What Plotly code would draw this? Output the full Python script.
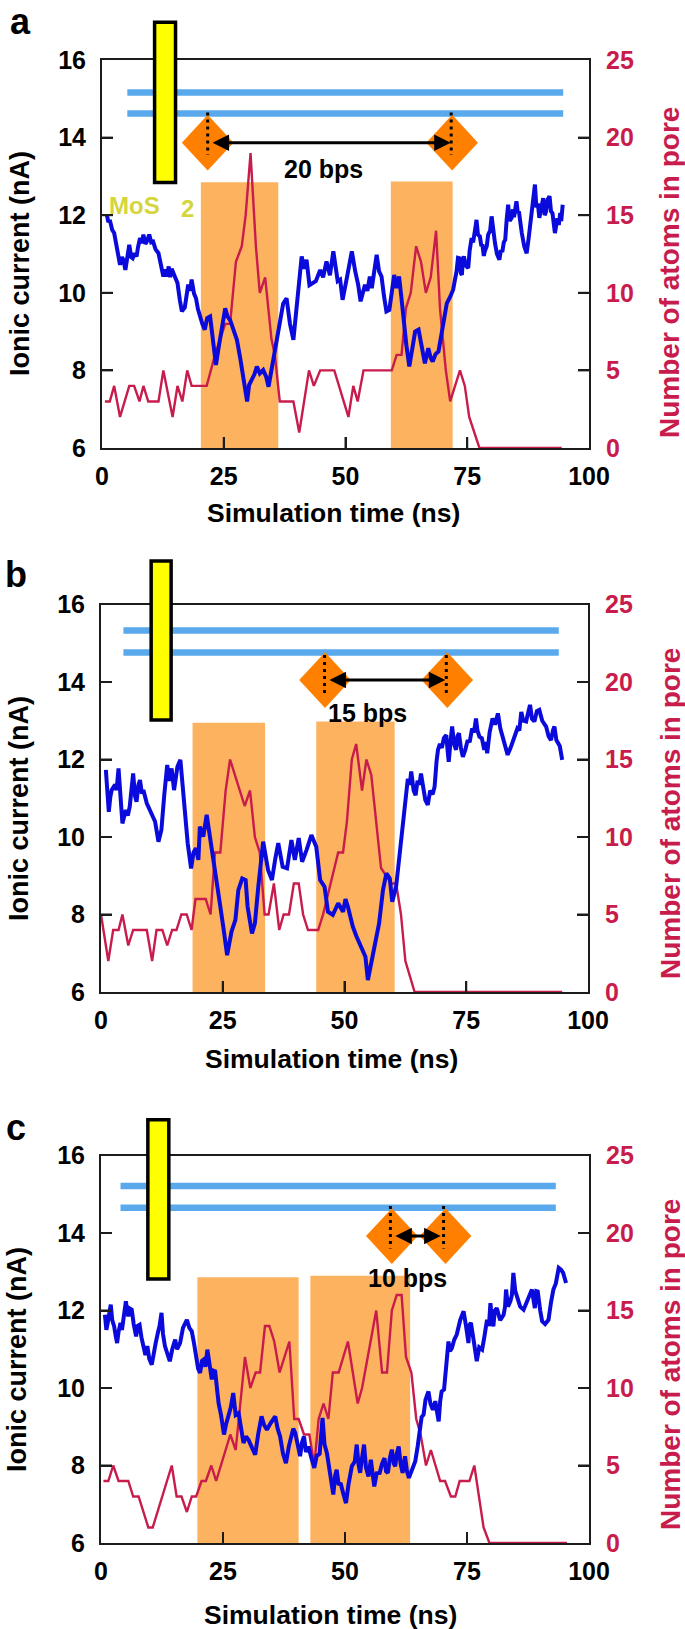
import plotly.graph_objects as go

W, H = 685, 1629
FONT = "Liberation Sans"
RED = "#C71C4C"
BLUE = "#0A0ADC"
SKY = "#5AA9EC"
ORANGE_BOX = "#FDB25F"
ORANGE = "#FF8000"
YELLOW = "#FFFF00"
MOS = "#D5D53C"
AXC = "#1c1c1c"

# ---------- panel a ----------
a_blue_t = [1.0,1.3,1.6,2.1,2.5,2.8,3.1,3.4,3.7,4.1,4.4,4.8,5.2,5.6,6.0,6.3,6.7,7.1,7.4,7.8,8.2,8.5,8.9,9.2,9.7,10.1,10.5,11.0,11.6,12.1,12.6,13.0,13.3,13.7,14.0,14.3,14.6,15.0,15.5,16.0,16.4,17.0,17.4,17.7,18.1,18.4,18.9,19.3,19.7,20.1,20.6,21.1,21.6,22.2,22.8,23.4,23.9,24.4,24.9,25.3,25.8,26.3,27.0,27.7,28.4,29.0,29.4,29.8,30.2,30.7,31.3,31.8,32.4,33.1,33.7,34.2,34.7,35.2,35.9,36.6,37.2,37.9,38.6,39.3,40.1,41.0,41.5,42.0,42.6,43.1,43.9,44.8,45.4,46.1,46.8,47.5,48.4,48.9,49.4,50.3,51.3,52.0,52.6,53.1,54.0,54.5,55.0,55.4,55.9,56.4,56.9,57.4,57.9,58.4,59.0,59.5,60.0,60.5,61.0,61.5,61.9,62.5,63.1,63.7,64.3,65.0,65.6,66.3,67.0,67.5,67.9,68.5,69.1,70.1,70.8,71.5,72.1,72.5,72.8,73.1,73.4,73.7,73.9,74.1,74.3,74.7,75.2,75.5,75.9,76.2,76.4,76.7,76.9,77.2,77.6,77.9,78.1,78.4,78.6,79.0,79.3,79.7,80.0,80.3,80.7,81.1,81.6,81.9,82.2,82.5,82.8,83.1,83.4,83.7,84.1,84.4,84.6,85.1,85.4,85.6,85.9,86.2,86.7,87.2,87.6,88.0,88.4,88.9,89.2,89.5,89.8,90.2,90.6,90.9,91.2,91.5,91.9,92.2,92.5,93.0,93.3,93.5,93.8,94.1,94.3,94.6]
a_blue_v = [12.01,11.82,11.88,11.62,11.54,11.30,11.2,10.86,10.72,10.92,10.85,10.59,10.95,11.24,10.92,10.89,11.02,10.94,11.18,11.41,11.28,11.5,11.26,11.32,11.5,11.30,11.32,11.12,11.02,10.72,10.42,10.60,10.42,10.68,10.40,10.62,10.51,10.38,10.25,9.80,9.52,9.62,9.98,10.21,10.05,10.34,9.98,9.86,9.58,9.39,9.20,9.05,9.35,9.39,8.76,8.14,8.55,8.87,9.30,9.6,9.38,9.3,9.0,8.79,8.30,7.84,7.45,7.2,7.62,7.75,7.90,8.1,7.92,8.01,7.84,7.58,7.95,8.18,8.70,9.22,9.72,9.86,9.20,8.79,9.85,10.94,10.62,10.85,10.20,10.25,10.30,10.59,10.40,10.81,10.45,11.07,10.3,10.34,9.82,10.4,11.07,10.55,10.21,9.78,10.21,10.05,10.42,10.12,10.55,10.98,10.55,10.42,9.92,9.52,9.56,9.95,10.46,10.12,10.42,9.85,9.3,8.65,8.1,8.62,9.0,9.05,8.7,8.18,8.57,8.32,8.23,8.42,8.49,9.22,9.73,9.90,10.08,10.35,10.55,10.9,10.89,10.5,10.46,10.85,10.94,10.7,10.64,11.1,11.41,11.3,11.55,11.7,11.88,11.5,11.45,11.2,11.25,10.95,11.07,11.2,11.50,11.6,11.97,11.6,11.28,11.0,10.85,11.1,11.05,11.3,11.37,11.9,12.27,11.85,11.93,12.15,11.95,12.36,12.05,12.1,11.75,11.54,11.2,11.02,11.4,11.90,12.4,12.79,12.2,12.3,11.93,12.26,12.44,12.0,12.10,12.4,12.49,12.1,12.05,11.54,11.8,11.92,11.75,12.06,11.85,12.27]
a_red_t = [0.6,1.6,2.5,3.7,5.6,6.6,7.7,8.5,9.5,11.6,12.6,14.5,15.5,16.5,17.5,18.4,21.5,23.2,25.3,26.3,27.5,28.7,29.5,30.5,31.6,32.4,33.5,34.8,35.5,36.5,39.3,40.5,42.5,43.5,44.8,47.7,50.6,51.6,52.5,53.7,59.5,60.5,61.5,62.4,63.4,64.5,65.5,66.5,67.5,68.6,69.4,70.6,71.5,73.5,74.5,75.4,77.5,94.4]
a_red_r = [3,3,4,2,4,4,3,4,3,3,5,2,4,3,5,4,4,6,8,8,12,13,15,19,13,10,11,7,6,3,3,1,5,4,5,5,2,4,3,5,5,6,6,9,10,13,12,10,11,14,9,5,3,5,4,2,0,0]
a_box_t = [[20.3,36.2],[59.3,72.0]]
a_box_top = [12.85,12.87]
a_yellow_t = [10.8,15.1]
a_yellow_v = [12.84,16.97]
a_sky_t = [5.2,94.7]
a_sky_v = [15.16,14.62]
a_dia_t = [21.7,71.9]
a_dia_v = 13.87
a_dot_t = [21.7,71.7]
a_dot_v = [14.65,13.55]
a_arrow_t = [22.4,71.6]
a_label = ("20 bps",45.4,13.2)

# ---------- panel b ----------
b_blue_t = [1.0,1.3,1.6,1.9,2.2,2.9,3.2,3.6,4.0,4.4,5.1,5.5,5.9,6.3,6.6,7.0,7.3,7.7,8.0,8.4,8.7,9.4,10.4,11.1,11.8,12.4,13.0,13.6,14.0,14.5,15.0,15.4,15.7,16.3,17.1,17.8,18.5,19.0,19.5,20.0,20.3,21.0,21.7,22.5,23.4,24.4,25.2,25.9,26.8,27.6,28.2,29.0,29.7,30.1,31.0,31.6,32.3,33.3,34.3,35.1,35.8,36.4,37.3,38.2,39.1,39.8,40.6,41.3,42.2,43.2,44.2,45.0,45.9,46.6,47.6,48.7,49.7,50.2,50.7,51.7,52.4,53.1,53.8,54.3,54.8,55.8,56.4,57.1,57.9,58.6,59.3,59.8,60.6,61.3,61.9,62.7,63.0,63.4,63.7,64.2,64.6,65.0,65.4,65.7,66.1,66.6,67.1,67.6,68.1,68.5,68.9,69.2,69.6,70.0,70.4,70.9,71.2,71.4,71.8,72.1,72.5,72.9,73.2,73.5,73.9,74.3,74.8,75.3,75.7,76.2,76.6,77.0,77.3,77.7,78.2,78.7,79.0,79.3,79.8,80.4,80.9,81.5,82.0,82.5,83.0,83.5,84.1,84.7,85.2,85.5,85.9,86.3,86.7,87.3,87.7,88.1,88.5,89.0,89.5,90.0,90.6,91.4,91.9,92.4,92.8,93.1,93.5,93.8,94.2,94.7]
b_blue_v = [11.73,11.10,10.65,11.02,11.21,11.35,11.21,11.77,10.90,10.35,10.7,10.55,10.78,11.30,11.64,11.05,10.91,11.35,11.47,11.12,11.21,10.87,10.61,10.40,9.88,10.18,11.10,11.86,11.45,11.77,11.21,11.50,11.82,11.99,10.87,9.84,9.19,9.60,9.71,9.41,10.27,10.01,10.57,9.92,9.23,8.29,7.60,6.95,7.56,7.86,8.63,8.93,8.89,8.2,7.51,7.77,8.72,9.88,9.15,8.89,9.45,9.84,9.23,9.19,9.92,9.41,9.97,9.36,9.66,10.05,9.75,8.89,8.72,8.07,7.99,8.29,8.07,8.40,8.2,7.69,7.45,7.26,7.05,6.91,6.31,6.91,7.30,7.77,8.63,9.06,8.93,8.33,8.72,9.49,10.27,11.21,11.5,11.35,11.69,11.2,11.08,11.45,11.35,11.64,11.3,10.95,10.83,11.2,11.1,11.3,11.95,12.25,12.4,12.3,12.55,12.63,12.2,11.94,12.5,12.85,12.4,12.25,12.6,12.68,12.3,12.07,12.25,12.5,12.45,12.80,12.7,13.06,12.75,12.59,12.55,12.25,12.45,12.16,12.7,13.06,12.9,13.19,12.8,12.59,12.4,12.12,12.3,12.5,12.65,12.80,12.75,13.23,13.0,12.98,13.2,13.41,13.05,12.98,13.25,13.28,13.0,12.85,12.6,12.5,12.75,12.85,12.5,12.42,12.35,11.99]
b_red_t = [0.0,1.5,2.5,3.6,4.4,5.6,6.6,9.4,10.5,11.4,12.6,13.6,14.6,15.5,16.5,17.6,18.6,19.4,21.5,22.5,23.4,24.5,25.6,26.5,29.5,30.6,31.6,32.6,33.6,34.4,35.5,36.6,37.5,38.6,39.6,40.6,41.5,42.5,44.6,45.6,48.7,49.7,50.5,51.5,52.4,53.6,54.5,55.5,57.5,59.6,60.6,61.6,62.5,64.4,94.7]
b_red_r = [5,2,4,4,5,3,4,4,2,4,4,3,4,4,5,5,4,6,6,5,9,9,13,15,12,13,10,9,5,5,7,4,5,5,7,7,5,4,4,5,9,9,11,15,16,13,15,14,8,7,7,5,2,0,0]
b_box_t = [[18.8,33.7],[44.2,60.3]]
b_box_top = [12.95,12.98]
b_yellow_t = [10.3,14.4]
b_yellow_v = [13.02,17.12]
b_sky_t = [4.6,94.0]
b_sky_v = [15.33,14.76]
b_dia_t = [46.0,71.1]
b_dia_v = 14.05
b_dot_t = [45.9,70.9]
b_dot_v = [14.7,13.66]
b_arrow_t = [46.6,70.7]
b_label = ("15 bps",54.7,13.2)

# ---------- panel c ----------
c_blue_t = [0.8,1.1,1.4,1.7,2.0,2.3,2.7,3.0,3.3,3.6,4.0,4.3,4.7,5.1,5.4,5.6,5.9,6.3,6.7,7.2,7.5,7.9,8.3,8.8,9.1,9.5,9.9,10.4,10.8,11.2,11.7,12.0,12.4,12.7,13.1,13.6,14.1,14.6,15.2,15.6,16.2,16.8,17.6,18.1,18.6,19.0,19.5,19.9,20.3,20.7,21.0,21.4,21.8,22.2,22.7,23.0,23.4,23.8,24.1,24.6,25.2,25.6,26.1,26.6,27.1,27.6,28.2,28.7,29.2,29.7,30.2,30.8,31.6,32.2,32.9,33.4,34.0,34.8,35.7,36.2,36.7,37.3,37.9,38.5,39.1,39.4,39.8,40.3,40.8,41.2,41.6,42.0,42.5,43.1,43.7,44.2,44.8,45.4,45.8,46.3,46.9,47.6,48.0,48.3,48.7,49.1,49.6,50.2,50.7,51.4,52.0,52.4,52.8,53.1,53.5,53.9,54.3,54.8,55.3,55.7,56.0,56.5,57.1,57.6,58.1,58.4,58.8,59.2,59.6,60.0,60.3,60.6,61.0,61.4,61.8,62.3,62.7,63.1,63.8,64.4,64.9,65.4,65.7,66.1,66.5,67.1,67.5,68.0,68.5,68.9,69.2,69.5,69.8,70.3,70.8,71.2,71.5,71.9,72.4,72.9,73.6,74.3,74.8,75.3,75.5,75.8,76.4,77.0,77.5,78.1,78.6,79.1,79.5,79.8,80.1,80.4,80.7,81.1,81.8,82.5,82.8,83.0,83.4,83.9,84.2,84.5,84.9,85.2,85.9,86.6,87.4,88.3,88.6,88.9,89.2,89.5,90.0,90.4,91.0,91.7,92.2,92.7,93.2,93.8,94.3,94.7,95.3]
c_blue_v = [11.89,11.5,11.7,11.9,12.15,11.75,11.59,11.35,11.16,11.45,11.68,11.5,11.95,12.24,11.95,11.85,12.05,12.02,11.65,11.33,11.6,11.63,11.3,11.03,10.85,11.08,10.75,10.6,10.95,11.16,11.45,11.6,11.94,11.4,11.08,10.85,10.69,11.0,11.25,11.0,11.16,11.55,11.76,11.55,11.46,11.2,10.86,10.5,10.39,10.7,10.73,10.55,10.99,10.55,10.22,10.45,10.43,9.95,9.61,9.3,8.8,9.05,9.27,9.5,9.87,9.3,9.35,9.0,8.58,8.75,8.67,8.5,8.28,8.8,9.27,9.05,8.92,9.1,9.27,8.95,8.75,8.3,8.06,8.5,8.75,8.95,8.84,8.5,8.24,8.6,8.75,8.35,8.49,8.2,7.94,8.25,8.3,9.23,8.55,8.32,7.85,7.25,7.75,7.89,7.5,7.55,7.3,7.03,7.5,7.98,8.1,8.54,8.0,7.81,8.2,8.54,7.95,7.72,8.15,7.7,7.46,7.8,7.81,8.05,8.19,7.85,7.81,8.2,8.41,8.05,7.98,8.3,8.49,8.05,7.81,8.24,7.85,7.68,7.95,8.11,8.5,8.92,9.25,9.31,9.7,9.91,9.6,9.44,9.66,9.35,9.14,9.65,9.91,9.96,10.7,11.2,10.95,11.03,11.25,11.38,11.75,11.98,11.6,11.16,11.62,11.68,11.2,10.69,11.05,10.99,11.35,11.76,11.6,12.19,11.75,11.59,12.0,12.06,11.75,11.89,12.1,12.54,12.1,12.24,12.4,12.97,12.5,12.37,12.1,12.02,12.3,12.54,12.3,12.06,12.5,12.49,12.0,11.72,11.65,11.76,12.2,12.54,12.7,13.1,13.05,12.97,12.71]
c_red_t = [0.5,1.5,2.5,3.6,5.6,6.6,7.7,9.7,10.6,14.5,15.5,16.5,17.6,18.6,19.5,20.6,21.5,22.6,23.6,26.5,27.6,29.5,30.6,31.7,32.6,33.6,34.5,35.5,36.6,38.6,39.6,40.5,41.6,42.7,43.7,44.6,45.6,46.6,47.5,48.7,50.6,52.6,53.5,56.4,57.6,58.6,59.6,60.6,61.6,62.5,63.6,64.6,65.5,66.6,67.6,69.5,70.5,71.7,72.6,73.5,75.5,76.5,78.4,79.6,95.5]
c_red_r = [4,4,5,4,4,3,3,1,1,5,3,3,2,3,3,4,4,5,4,7,6,12,10,11,11,14,14,13,11,13,8,8,7,7,5,8,9,8,11,11,13,9,10,15,11,11,15,16,16,12,11,8,7,5,6,4,4,3,3,4,4,5,1,0,0]
c_box_t = [[19.75,40.5],[42.9,63.35]]
c_box_top = [12.86,12.9]
c_yellow_t = [9.6,13.9]
c_yellow_v = [12.81,16.92]
c_sky_t = [4.0,93.2]
c_sky_v = [15.21,14.65]
c_dia_t = [59.6,70.6]
c_dia_v = 13.92
c_dot_t = [59.3,70.2]
c_dot_v = [14.7,13.6]
c_arrow_t = [60.0,69.6]
c_label = ("10 bps",62.9,12.84)

x_ticks = [0,25,50,75,100]
left_ticks = [6,8,10,12,14,16]
right_ticks = [0,5,10,15,20,25]

X_TITLE = "Simulation time (ns)"
L_TITLE = "Ionic current (nA)"
R_TITLE = "Number of atoms in pore"

panels = [
    dict(letter="a", top=60, bottom=448, left=102, right=589, lx=20, ly=22,
         xt=(333.5,513), lt=(20,264), rt_pos=(669,273),
         bt=a_blue_t, bv=a_blue_v, rt=a_red_t, rr=a_red_r, box=a_box_t, boxtop=a_box_top,
         yt=a_yellow_t, yv=a_yellow_v, st=a_sky_t, sv=a_sky_v, dt=a_dia_t, dv=a_dia_v,
         dot=a_dot_t, dotv=a_dot_v, arrow=a_arrow_t, label=a_label),
    dict(letter="b", top=604.5, bottom=992, left=101, right=588, lx=16, ly=574,
         xt=(331.5,1058.5), lt=(18.5,808.5), rt_pos=(670,814),
         bt=b_blue_t, bv=b_blue_v, rt=b_red_t, rr=b_red_r, box=b_box_t, boxtop=b_box_top,
         yt=b_yellow_t, yv=b_yellow_v, st=b_sky_t, sv=b_sky_v, dt=b_dia_t, dv=b_dia_v,
         dot=b_dot_t, dotv=b_dot_v, arrow=b_arrow_t, label=b_label),
    dict(letter="c", top=1155.5, bottom=1543, left=101, right=589, lx=16, ly=1127,
         xt=(330.5,1615), lt=(17,1360), rt_pos=(670,1365),
         bt=c_blue_t, bv=c_blue_v, rt=c_red_t, rr=c_red_r, box=c_box_t, boxtop=c_box_top,
         yt=c_yellow_t, yv=c_yellow_v, st=c_sky_t, sv=c_sky_v, dt=c_dia_t, dv=c_dia_v,
         dot=c_dot_t, dotv=c_dot_v, arrow=c_arrow_t, label=c_label),
]

DIA_DX, DIA_DV = 5.3, 0.72
TICK_PX = 11

fig = go.Figure()
layout = dict(width=W, height=H, margin=dict(l=0,r=0,t=0,b=0,autoexpand=False), showlegend=False,
              paper_bgcolor="white", plot_bgcolor="rgba(0,0,0,0)",
              font=dict(family=FONT, size=25, color="black"))
annots = []
shapes = []

def title_note(text, pos, size, color="black", angle=0):
    return dict(x=pos[0]/W, y=1-pos[1]/H, xref="paper", yref="paper", text=f"<b>{text}</b>",
                xanchor="center", yanchor="middle", showarrow=False, textangle=angle,
                font=dict(size=size, color=color))

for i, p in enumerate(panels):
    n = i + 1
    xa = "x" if n == 1 else f"x{n}"
    main = "y" if n == 1 else f"y{n}"       # atoms axis (drawn first)
    over = f"y{n+3}"                        # current axis (drawn above)
    xk = xa.replace("x", "xaxis"); mk = main.replace("y", "yaxis"); ok = over.replace("y", "yaxis")

    def fx(t, p=p):
        return (p["left"] + t*(p["right"]-p["left"])/100)/W
    def fy(v, p=p):
        return 1 - (p["bottom"] - (v-6)*(p["bottom"]-p["top"])/10)/H

    layout[xk] = dict(domain=[p["left"]/W, p["right"]/W], range=[0,100], anchor=main,
                      tickvals=x_ticks, ticks="inside", ticklen=TICK_PX, tickwidth=2, tickcolor=AXC,
                      linecolor=AXC, linewidth=2, mirror=True, showgrid=False, zeroline=False,
                      ticklabelstandoff=5, tickfont=dict(size=25, family=FONT, weight="bold"))
    layout[mk] = dict(domain=[1-p["bottom"]/H, 1-p["top"]/H], range=[0,25], anchor=xa, side="right",
                      tickvals=right_ticks, ticks="inside", ticklen=TICK_PX, tickwidth=2, tickcolor=AXC,
                      showline=True, linecolor=AXC, linewidth=2, showgrid=False, zeroline=False,
                      ticklabelstandoff=10,
                      tickfont=dict(size=25, family=FONT, weight="bold", color=RED))
    layout[ok] = dict(range=[6,16], overlaying=main, anchor=xa, side="left",
                      tickvals=left_ticks, ticks="inside", ticklen=TICK_PX, tickwidth=2, tickcolor=AXC,
                      showline=True, linecolor=AXC, linewidth=2, showgrid=False, zeroline=False,
                      ticklabelstandoff=9, tickfont=dict(size=25, family=FONT, weight="bold"))

    annots.append(title_note(X_TITLE, p["xt"], 26.5))
    annots.append(title_note(L_TITLE, p["lt"], 27, angle=-90))
    annots.append(title_note(R_TITLE, p["rt_pos"], 28, color=RED, angle=-90))

    # orange windows, under everything
    for (t0, t1), top in zip(p["box"], p["boxtop"]):
        shapes.append(dict(type="rect", xref="paper", yref="paper", layer="below",
                           x0=fx(t0), x1=fx(t1), y0=fy(5.95), y1=fy(top),
                           fillcolor=ORANGE_BOX, line=dict(width=0)))
    # tick strokes along the frame, at the axis tick positions
    for t in x_ticks[1:-1]:
        shapes.append(dict(type="line", xref="paper", yref="paper", layer="above",
                           x0=fx(t), x1=fx(t), y0=1-p["bottom"]/H, y1=1-(p["bottom"]-TICK_PX)/H,
                           line=dict(color=AXC, width=2)))
    for v in left_ticks[1:-1]:
        shapes.append(dict(type="line", xref="paper", yref="paper", layer="above",
                           x0=p["left"]/W, x1=(p["left"]+TICK_PX)/W, y0=fy(v), y1=fy(v),
                           line=dict(color=AXC, width=2)))
        shapes.append(dict(type="line", xref="paper", yref="paper", layer="above",
                           x0=(p["right"]-TICK_PX)/W, x1=p["right"]/W, y0=fy(v), y1=fy(v),
                           line=dict(color=AXC, width=2)))
    fig.add_trace(go.Scatter(x=p["rt"], y=p["rr"], xaxis=xa, yaxis=main, mode="lines",
                             line=dict(color=RED, width=2.4), cliponaxis=False, name="Atoms in pore"))
    # membrane schematic
    for v in p["sv"]:
        fig.add_trace(go.Scatter(x=p["st"], y=[v,v], xaxis=xa, yaxis=over, mode="lines",
                                 line=dict(color=SKY, width=6.5), hoverinfo="skip"))
    t0, t1 = p["yt"]; y0, y1 = p["yv"]
    shapes.append(dict(type="rect", xref="paper", yref="paper", layer="above",
                       x0=fx(t0), x1=fx(t1), y0=fy(y0), y1=fy(y1),
                       fillcolor=YELLOW, line=dict(color="black", width=3.5)))
    fig.add_trace(go.Scatter(x=p["bt"], y=p["bv"], xaxis=xa, yaxis=over, mode="lines",
                             line=dict(color=BLUE, width=4.0), name="Ionic current"))
    for t in p["dt"]:
        fig.add_trace(go.Scatter(x=[t-DIA_DX,t,t+DIA_DX,t,t-DIA_DX],
                                 y=[p["dv"],p["dv"]+DIA_DV,p["dv"],p["dv"]-DIA_DV,p["dv"]],
                                 xaxis=xa, yaxis=over, mode="lines", fill="toself", fillcolor=ORANGE,
                                 line=dict(width=0), hoverinfo="skip"))
    for t in p["dot"]:
        fig.add_trace(go.Scatter(x=[t,t], y=p["dotv"], xaxis=xa, yaxis=over, mode="lines",
                                 line=dict(color="black", width=3, dash="3px,4px"), hoverinfo="skip"))
    a0, a1 = p["arrow"]
    annots.append(dict(x=a1, y=p["dv"], ax=a0, ay=p["dv"], xref=xa, yref=over, axref=xa, ayref=over,
                       text="", showarrow=True, arrowhead=2, arrowside="end+start", arrowsize=1.1,
                       arrowwidth=3, arrowcolor="black", standoff=0, startstandoff=0))
    txt, lt, lv = p["label"]
    annots.append(dict(x=lt, y=lv, xref=xa, yref=over, text=f"<b>{txt}</b>", showarrow=False,
                       font=dict(size=25, color="black")))
    annots.append(dict(x=p["lx"]/W, y=1-p["ly"]/H, xref="paper", yref="paper", text=f"<b>{p['letter']}</b>",
                       xanchor="center", yanchor="middle", showarrow=False, font=dict(size=36, color="black")))

annots.append(dict(x=6.6, y=12.24, xref="x", yref="y4", text="<b>MoS</b>", showarrow=False,
                   font=dict(size=24, color=MOS)))
annots.append(dict(x=17.6, y=12.16, xref="x", yref="y4", text="<b>2</b>", showarrow=False,
                   font=dict(size=24, color=MOS)))
layout["annotations"] = annots
layout["shapes"] = shapes
fig.update_layout(**layout)
fig.write_html("out.html", config=dict(displayModeBar=False),
               post_script="document.body.style.margin='0';")
